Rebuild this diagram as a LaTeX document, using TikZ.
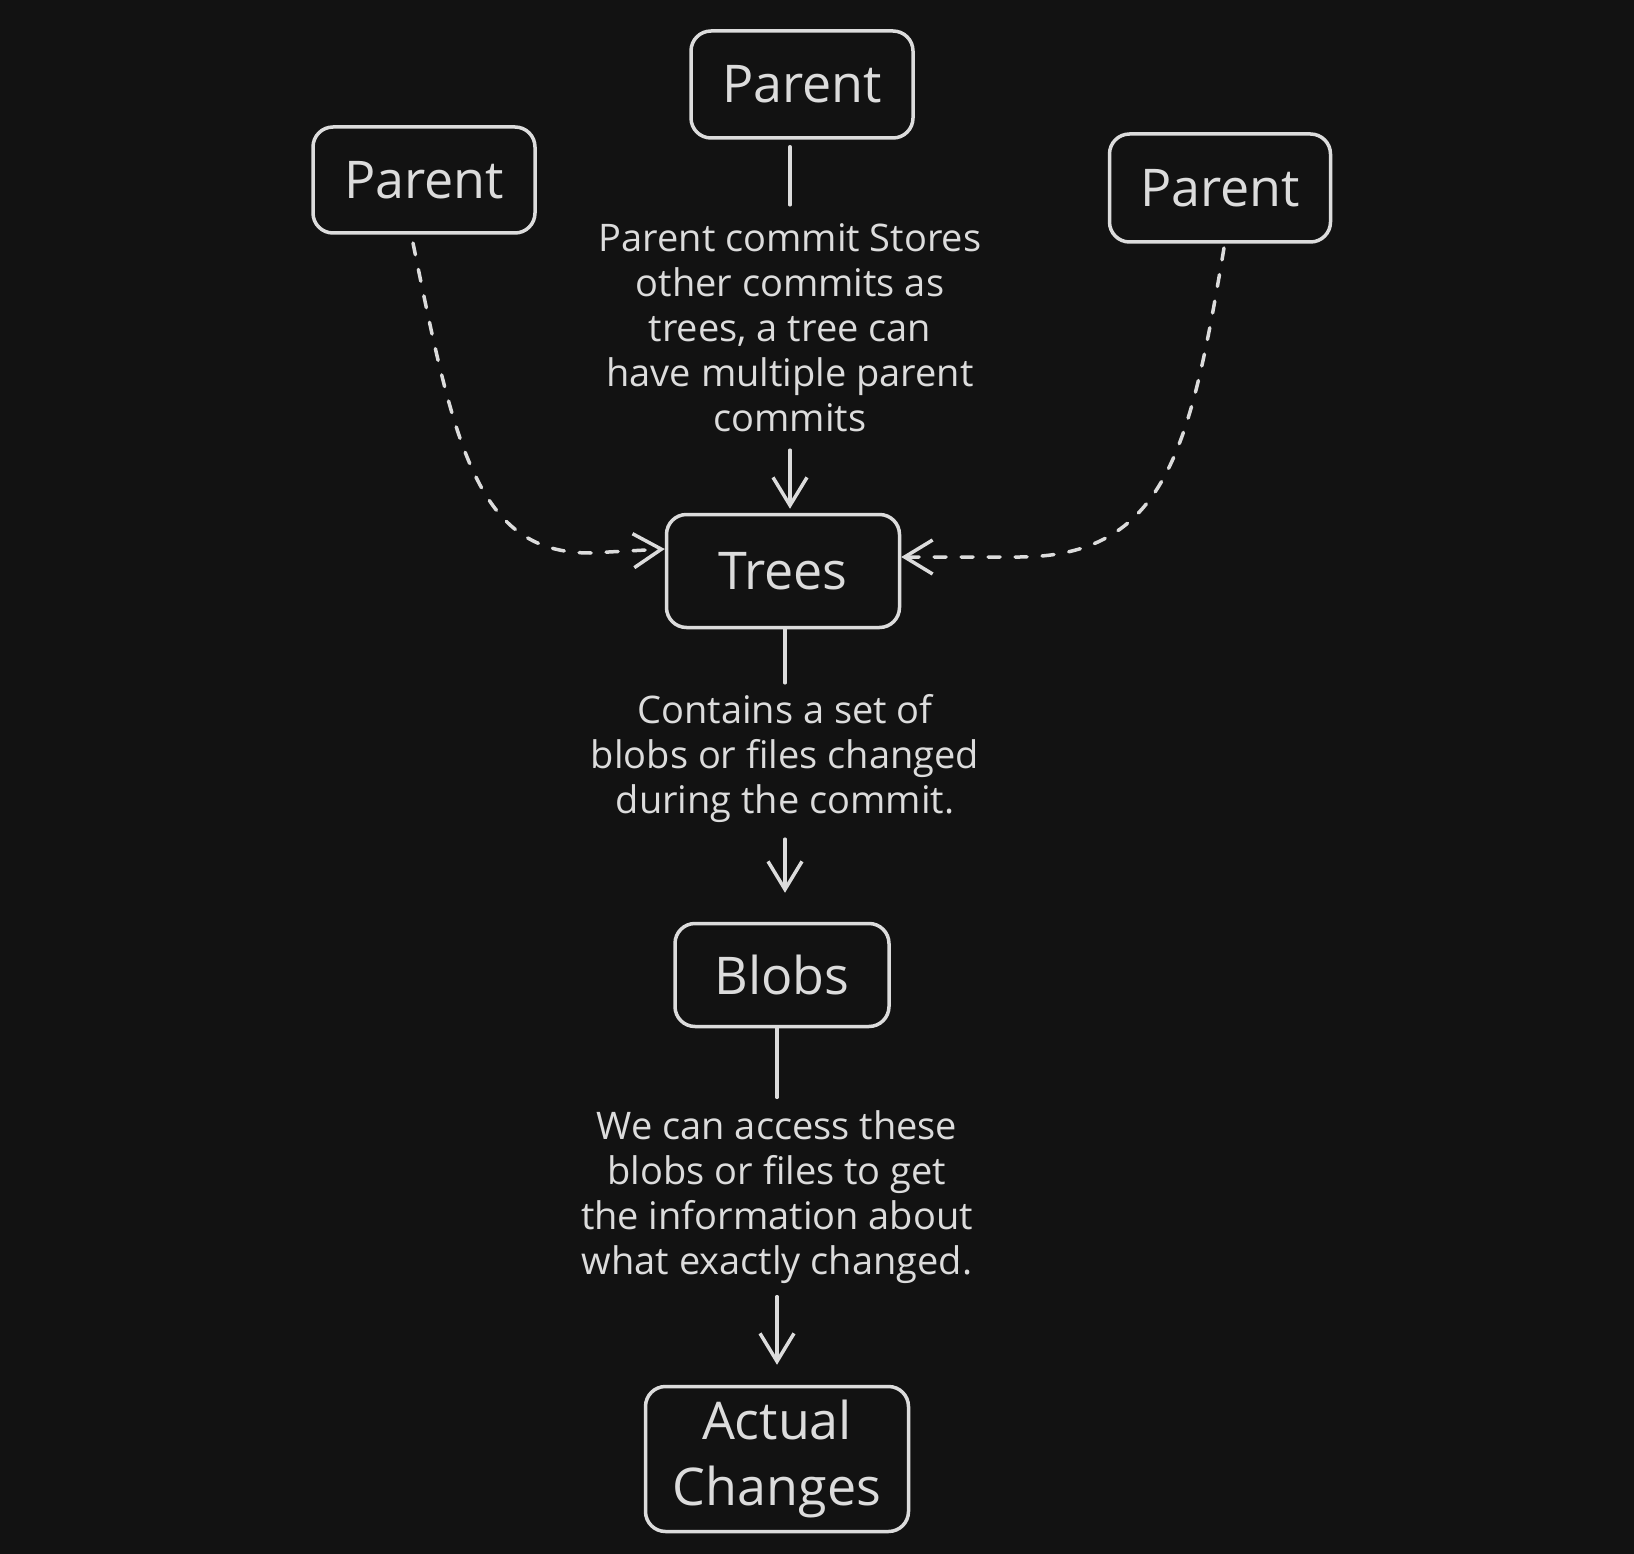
\documentclass[tikz,border=0pt]{standalone}
\usepackage{fontspec}
\setmainfont{Open Sans}
\usetikzlibrary{arrows.meta}
\definecolor{bg}{HTML}{121212}
\definecolor{ink}{HTML}{DCDCDC}
\begin{document}
\begin{tikzpicture}[x=1pt,y=-1pt,
  box/.style={draw=ink, line width=3.5pt, rounded corners=20pt, text=ink,
    font=\fontsize{52}{66}\selectfont, inner sep=0pt, align=center},
  lbl/.style={text=ink, font=\fontsize{38}{45}\selectfont, align=center, inner sep=0pt},
  conn/.style={draw=ink, line width=3.5pt, line cap=round},
  tip/.style={-{Straight Barb[length=28pt,width=34pt]}},
  dashline/.style={dash pattern=on 12pt off 15pt}]
\fill[bg] (0,0) rectangle (1634,1554);
\useasboundingbox (0,0) rectangle (1634,1554);

% boxes
\node[box, minimum width=222pt, minimum height=107pt] (pt) at (802,84.5) {Parent};
\node[box, minimum width=222pt, minimum height=106pt] (pl) at (424,180) {Parent};
\node[box, minimum width=221pt, minimum height=108pt] (pr) at (1220,188) {Parent};
\node[box, minimum width=233pt, minimum height=113pt] (trees) at (783,571) {Trees};
\node[box, minimum width=214pt, minimum height=103pt] (blobs) at (782,975) {Blobs};
\node[box, minimum width=263pt, minimum height=145pt] (act) at (777,1459) {Actual\\Changes};

% labels
\node[lbl, minimum height=245pt] (l1) at (790,327.5) {Parent commit Stores\\other commits as\\trees, a tree can\\have multiple parent\\commits};
\node[lbl, minimum height=152pt] (l2) at (785,759) {Contains a set of\\blobs or files changed\\during the commit.};
\node[lbl, minimum height=199pt] (l3) at (777,1197) {We can access these\\blobs or files to get\\the information about\\what exactly changed.};

% connectors
\draw[conn, shorten <=7pt] (pt.south -| l1.north) -- (l1.north);
\draw[conn, tip, shorten >=4pt] (l1.south) -- (l1.south |- trees.north);
\draw[conn] (trees.south -| l2.north) -- (l2.north);
\draw[conn, tip, shorten <=4pt, shorten >=29pt] (l2.south) -- (l2.south |- blobs.north);
\draw[conn] (blobs.south -| l3.north) -- (l3.north);
\draw[conn, tip, shorten >=20pt] (l3.south) -- (l3.south |- act.north);

% dashed curved connectors
\coordinate (ls) at (413,243);
\coordinate (rs) at (1224,248);
\draw[conn, dashline, tip] (ls) .. controls (455,450) and (478,553) .. (590,553)
  -- ([yshift=22pt]trees.west);
\draw[conn, dashline, tip] (rs) .. controls (1190,450) and (1165,556) .. (1020,557)
  -- ([yshift=14pt]trees.east);
\end{tikzpicture}
\end{document}
